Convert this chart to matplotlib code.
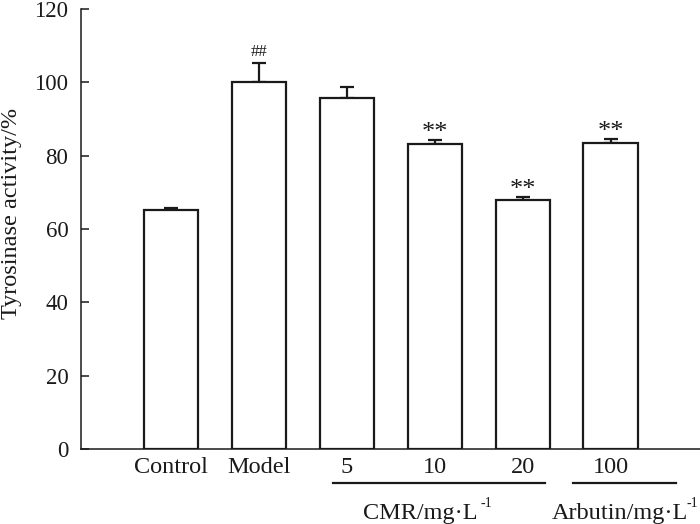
import matplotlib
matplotlib.use("Agg")
import matplotlib.pyplot as plt
import matplotlib.transforms as mtransforms

plt.rcParams['font.family'] = ['Liberation Serif', 'DejaVu Serif']

categories = ["Control", "Model", "5", "10", "20", "100"]
values = [65.2, 100.1, 95.6, 83.2, 67.9, 83.5]
errors = [0.5, 5.2, 3.2, 1.1, 0.8, 1.0]
marks = ["", "##", "", "**", "**", "**"]
yticks = [0, 20, 40, 60, 80, 100, 120]
ylabel = "Tyrosinase activity/%"
groups = [("CMR/mg\u00b7L", 2, 4), ("Arbutin/mg\u00b7L", 5, 5)]

ink = "#1a1a1a"
fig = plt.figure(figsize=(7, 5.24), dpi=100)
ax = fig.add_axes([81/700, 1-449/524, 1-81/700, 440/524])

x = list(range(len(categories)))
ax.bar(x, values, width=0.615, color="white", edgecolor=ink, linewidth=1.6, zorder=2)
ax.errorbar(x, values, yerr=[[0]*len(errors), errors], fmt="none", ecolor=ink,
            elinewidth=1.6, capsize=5, capthick=1.6, zorder=1)

for xi, v, e, m in zip(x, values, errors, marks):
    if not m:
        continue
    if m == "##":
        ax.annotate(m, (xi, v + e), xytext=(0, 7.5), textcoords="offset points",
                    ha="center", va="center", fontsize=12, color=ink)
    else:
        ax.annotate(m, (xi, v + e), xytext=(0, 5), textcoords="offset points",
                    ha="center", va="center", fontsize=19, color=ink)

ax.set_xlim(-1.024, 6.018)
ax.set_ylim(0, 120)
ax.set_yticks(yticks)
ax.set_xticks(x)
ax.set_xticklabels(categories, fontsize=17.5, color=ink)
ax.tick_params(axis="x", length=0, pad=6)
ax.tick_params(axis="y", direction="in", length=6, width=1.1, pad=9,
               labelsize=16.5, colors=ink)
for s in ["top", "right"]:
    ax.spines[s].set_visible(False)
for s in ["left", "bottom"]:
    ax.spines[s].set_linewidth(1.1)
    ax.spines[s].set_color(ink)

fig.text(12/700, 1-213.5/524, ylabel, rotation=90, ha="center", va="center",
         fontsize=17.5, color=ink)

trans = mtransforms.blended_transform_factory(ax.transData, ax.transAxes)
line_y = (449-483)/440
spans = [(1.84, 4.25), (4.57, 5.75)]
text_x = [2.18, 4.33]
sup_x = [3.52, 6.0]
sup_ha = ["left", "right"]
for (label, a, b), (l0, l1), tx, sx, sh in zip(groups, spans, text_x, sup_x, sup_ha):
    ax.plot([l0, l1], [line_y, line_y], transform=trans, color=ink, lw=1.6,
            clip_on=False)
    ax.text(tx, (449-518.5)/440, label, transform=trans, ha="left",
            va="baseline", fontsize=17.5, color=ink, clip_on=False)
    ax.text(sx, (449-497)/440, "-1", transform=trans, ha=sh,
            va="top", fontsize=10, color=ink, clip_on=False)

fig.savefig("out.png", dpi=100)
